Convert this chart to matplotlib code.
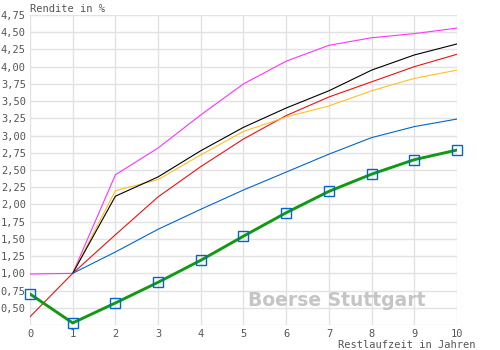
import numpy as np
import matplotlib
matplotlib.use("Agg")
import matplotlib.pyplot as plt

# Restlaufzeit (years)
years = [0, 1, 2, 3, 4, 5, 6, 7, 8, 9, 10]
years_from1 = years[1:]

# yield curves (Rendite in %)
magenta = [0.99, 1.00, 2.43, 2.82, 3.30, 3.75, 4.08, 4.31, 4.42, 4.48, 4.56]
red = [0.37, 1.00, 1.56, 2.11, 2.55, 2.95, 3.29, 3.56, 3.78, 4.00, 4.18]
black = [1.00, 2.12, 2.40, 2.78, 3.12, 3.40, 3.65, 3.95, 4.17, 4.33]
yellow = [1.00, 2.20, 2.36, 2.72, 3.06, 3.27, 3.43, 3.65, 3.83, 3.95]
blue = [1.00, 1.31, 1.64, 1.93, 2.21, 2.47, 2.73, 2.97, 3.13, 3.24]
green = [0.70, 0.28, 0.57, 0.87, 1.19, 1.54, 1.88, 2.19, 2.44, 2.65, 2.79]

yticks = np.arange(0.50, 4.76, 0.25)
ytick_labels = [f"{v:.2f}".replace(".", ",") for v in yticks]

plt.rcParams['font.family'] = ['DejaVu Sans Mono']

fig = plt.figure(figsize=(5, 3.5), dpi=100)
ax = fig.add_axes([0.06, 0.0714, 0.854, 0.8857])

ax.plot(years, magenta, color="#ff33ff", lw=0.8)
ax.plot(years, red, color="#ee1111", lw=0.8)
ax.plot(years_from1, yellow, color="#ffc020", lw=0.8)
ax.plot(years_from1, black, color="#000000", lw=0.8)
ax.plot(years_from1, blue, color="#0066cc", lw=0.8)
ax.plot(years, green, color="#119911", lw=2.1, zorder=4)
ax.plot(years, green, ls="none", marker="s", ms=7, mfc="none",
        mec="#0066cc", mew=1.0, zorder=5, clip_on=False)

ax.set_xlim(0, 10)
ax.set_ylim(0.25, 4.75)
ax.set_xticks(years)
ax.set_yticks(np.arange(0.25, 4.76, 0.25))
ax.set_yticklabels([""] + ytick_labels)
ax.grid(True, color="#e2e2e2", lw=1.0)
ax.set_axisbelow(True)
for s in ax.spines.values():
    s.set_visible(False)
ax.tick_params(length=0, labelsize=7.5, labelcolor="#555555", pad=3)

fig.text(0.06, 0.975, "Rendite in %", fontsize=7.5, color="#555555", va="center")
fig.text(0.952, 0.014, "Restlaufzeit in Jahren", fontsize=7.5, color="#555555",
         ha="right", va="center")

# watermark
fig.text(0.496, 0.14, "Boerse Stuttgart", fontsize=13.5, fontweight="bold",
         family="DejaVu Sans", color="#bbbbbb", alpha=0.85, va="center")

fig.savefig("out.png", dpi=100)
